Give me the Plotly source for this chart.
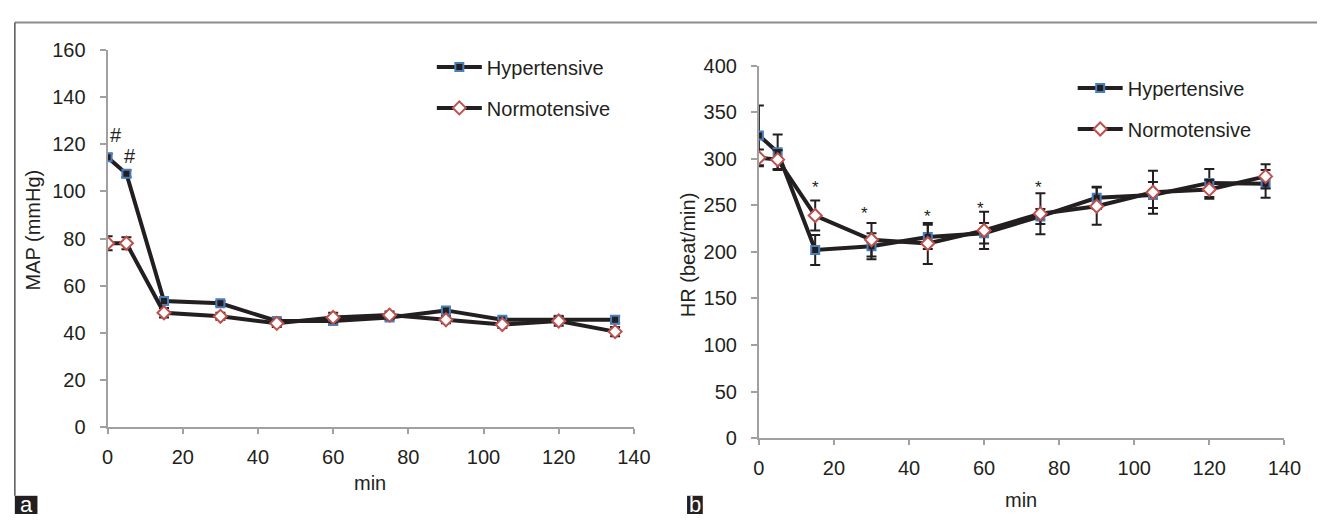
import plotly.graph_objects as go

# ---------------- data ----------------
minutes = [0, 5, 15, 30, 45, 60, 75, 90, 105, 120, 135]

map_hyp = [114.5, 107.5, 53.5, 52.5, 45.0, 45.0, 46.5, 49.5, 45.5, 45.5, 45.5]
map_hyp_err = [1.5, 1.5, 1.5, 1.0, 1.0, 1.5, 1.0, 1.0, 1.0, 1.0, 1.5]
map_norm = [78.0, 78.0, 48.5, 47.0, 44.0, 46.5, 47.5, 45.5, 43.5, 45.0, 40.5]
map_norm_err = [3.0, 2.5, 2.0, 1.5, 1.5, 2.0, 1.5, 1.5, 1.5, 2.0, 2.0]

hr_hyp = [325, 307, 202, 206, 216, 220, 238, 258, 261, 274, 273]
hr_hyp_err = [32, 19, 16, 14, 13, 11, 8, 12, 14, 15, 15]
hr_norm = [301, 299, 239, 213, 209, 223, 241, 249, 264, 267, 281]
hr_norm_err = [9, 10, 16, 18, 22, 20, 22, 20, 23, 10, 13]

hash_x = [2.1, 5.9]
hash_y = [124, 115]
star_x = [15.1, 28.1, 44.8, 59.0, 74.6]
star_y = [273.7, 246, 242.6, 251.3, 273.6]

x_ticks = [0, 20, 40, 60, 80, 100, 120, 140]
map_ticks = [0, 20, 40, 60, 80, 100, 120, 140, 160]
hr_ticks = [0, 50, 100, 150, 200, 250, 300, 350, 400]

# ---------------- style ----------------
W, H = 1334, 525
FONT = "Liberation Sans, Arial, sans-serif"
TXT = "#231f20"
LINE = "#231f20"
AX = "#a0a0a0"
BLUE = "#4a7ebb"
RED = "#c0504d"


def px(x):
    return x / W


def py(y):
    return 1 - y / H


fig = go.Figure()


def add_series(x, y, err, xa, ya, name, symbol, fill, edge, size, legend, show):
    fig.add_trace(go.Scatter(
        x=x, y=y, xaxis=xa, yaxis=ya, name=name, legendgroup=name + legend,
        legend=legend, showlegend=show, mode="lines+markers",
        line=dict(color=LINE, width=4),
        marker=dict(symbol=symbol, size=size, color=fill,
                    line=dict(color=edge, width=2)),
        error_y=dict(type="data", array=err, visible=True, color=LINE,
                     thickness=2, width=5),
    ))


add_series(minutes, map_hyp, map_hyp_err, "x", "y", "Hypertensive",
           "square", LINE, BLUE, 8, "legend", True)
add_series(minutes, map_norm, map_norm_err, "x", "y", "Normotensive",
           "diamond", "white", RED, 10, "legend", True)
add_series(minutes, hr_hyp, hr_hyp_err, "x2", "y2", "Hypertensive",
           "square", LINE, BLUE, 8, "legend2", True)
add_series(minutes, hr_norm, hr_norm_err, "x2", "y2", "Normotensive",
           "diamond", "white", RED, 10, "legend2", True)

axis_common = dict(
    showline=True, linecolor=AX, linewidth=2, ticks="outside",
    tickcolor=AX, tickwidth=2, showgrid=False, zeroline=False,
    tickfont=dict(family=FONT, size=20, color=TXT), mirror=False,
)

fig.update_layout(
    width=W, height=H, margin=dict(l=0, r=0, t=0, b=0),
    paper_bgcolor="white", plot_bgcolor="white",
    font=dict(family=FONT, size=20, color=TXT),
    xaxis=dict(domain=[px(103.4), px(638.9)], range=[0, 140], tickvals=x_ticks,
               ticklen=5, ticklabelstandoff=6, anchor="y", **axis_common),
    yaxis=dict(domain=[py(434.2), py(40.8)], range=[0, 160], tickvals=map_ticks,
               ticklen=6, ticklabelstandoff=10, anchor="x", **axis_common),
    xaxis2=dict(domain=[px(766.1), px(1300.8)], range=[0, 140], tickvals=x_ticks,
                ticklen=5, ticklabelstandoff=6, anchor="y2", **axis_common),
    yaxis2=dict(domain=[py(445.9), py(56.9)], range=[0, 400], tickvals=hr_ticks,
                ticklen=6, ticklabelstandoff=10, anchor="x2", **axis_common),
    legend=dict(x=px(433.3), y=py(38), xanchor="left", yanchor="top",
                bgcolor="rgba(0,0,0,0)", tracegroupgap=12, itemwidth=45,
                traceorder="grouped",
                font=dict(family=FONT, size=20, color=TXT)),
    legend2=dict(x=px(1085.4), y=py(60), xanchor="left", yanchor="top",
                 bgcolor="rgba(0,0,0,0)", tracegroupgap=12, itemwidth=45,
                 traceorder="grouped",
                 font=dict(family=FONT, size=20, color=TXT)),
    showlegend=True,
)

ann = []
# axis titles
ann.append(dict(text="MAP (mmHg)", x=px(27.6), y=py(229), xref="paper", yref="paper",
                textangle=-90, showarrow=False, xanchor="center", yanchor="middle",
                font=dict(family=FONT, size=20, color=TXT)))
ann.append(dict(text="min", x=px(370), y=py(493), xref="paper", yref="paper",
                showarrow=False, xanchor="center", yanchor="middle",
                font=dict(family=FONT, size=20, color=TXT)))
ann.append(dict(text="HR (beat/min)", x=px(693.4), y=py(254.4), xref="paper", yref="paper",
                textangle=-90, showarrow=False, xanchor="center", yanchor="middle",
                font=dict(family=FONT, size=20, color=TXT)))
ann.append(dict(text="min", x=px(1032.8), y=py(510.5), xref="paper", yref="paper",
                showarrow=False, xanchor="center", yanchor="middle",
                font=dict(family=FONT, size=20, color=TXT)))
# significance marks
for hx, hy in zip(hash_x, hash_y):
    ann.append(dict(text="#", x=hx, y=hy, xref="x", yref="y", showarrow=False,
                    xanchor="center", yanchor="middle",
                    font=dict(family=FONT, size=20, color=TXT)))
for sx, sy in zip(star_x, star_y):
    ann.append(dict(text="*", x=sx, y=sy, xref="x2", yref="y2", showarrow=False,
                    xanchor="center", yanchor="middle", yshift=-4,
                    font=dict(family=FONT, size=17, color=TXT)))
# panel letters
ann.append(dict(text="a", x=px(20.5), y=py(515.5), xref="paper", yref="paper",
                showarrow=False, xanchor="center", yanchor="middle",
                font=dict(family=FONT, size=22, color="white")))
ann.append(dict(text="b", x=px(701), y=py(515.5), xref="paper", yref="paper",
                showarrow=False, xanchor="center", yanchor="middle",
                font=dict(family=FONT, size=22, color="white")))
fig.update_layout(annotations=ann)

shapes = [
    dict(type="line", xref="paper", yref="paper", x0=px(9), x1=1, y0=py(12), y1=py(12),
         line=dict(color="#8c8c8c", width=2)),
    dict(type="line", xref="paper", yref="paper", x0=px(9), x1=px(9), y0=py(12), y1=py(506),
         line=dict(color="#555555", width=1.5)),
    dict(type="rect", xref="paper", yref="paper", x0=px(9), x1=px(32), y0=py(506), y1=0,
         fillcolor="#231f20", line=dict(width=0), layer="below"),
    dict(type="rect", xref="paper", yref="paper", x0=px(693), x1=px(709), y0=py(506), y1=0,
         fillcolor="#231f20", line=dict(width=0), layer="below"),
]
fig.update_layout(shapes=shapes)

fig.write_html("out.html")
